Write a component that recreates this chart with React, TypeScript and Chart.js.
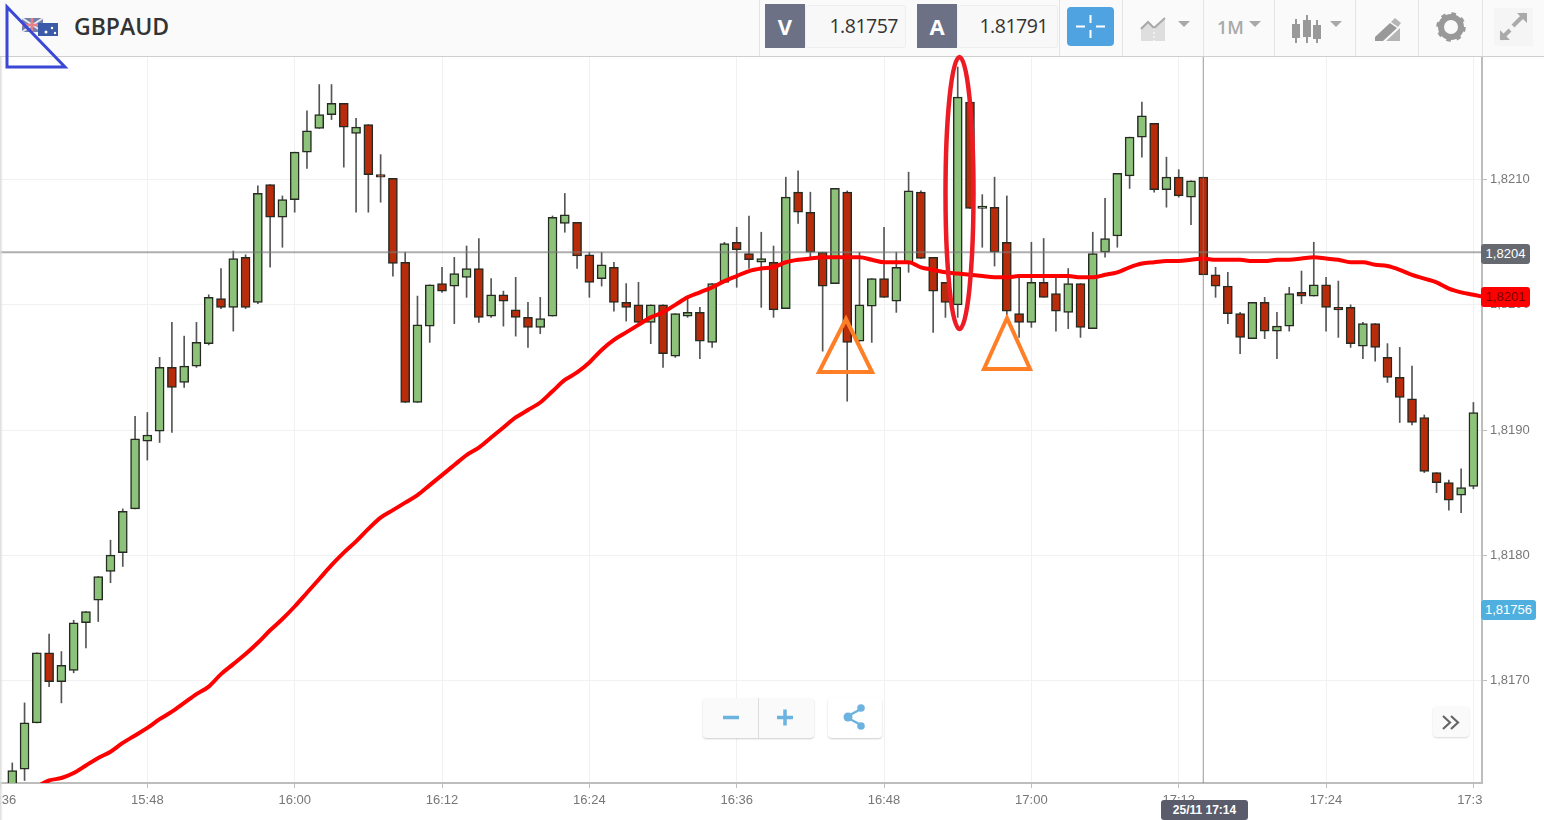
import React, { useEffect, useRef } from 'react';
import { Chart, registerables } from 'chart.js';

Chart.register(...registerables);

// minutes since midnight: the first candle is 15:37
const firstMinute = 937;
const xMin = 936;
const xMax = 1056.7;
const yMin = 1.81618;
const yMax = 1.82198;
const crossPrice = 1.82042;
const crossMinute = 1034;

const opens = [
  1.81608, 1.81629, 1.81666, 1.81722, 1.81699, 1.81708, 1.81746, 1.81764, 1.81787, 1.81802,
  1.81837, 1.81891, 1.81899, 1.8195, 1.81938, 1.81951, 1.81969, 1.82005, 1.81998, 1.82038,
  1.82002, 1.82096, 1.8207, 1.82084, 1.82122, 1.82141, 1.82152, 1.82161, 1.82137, 1.82144,
  1.82104, 1.82101, 1.82034, 1.81922, 1.81983, 1.82017, 1.82015, 1.82022, 1.82029, 1.81991,
  1.82008, 1.81996, 1.8199, 1.81982, 1.81991, 1.82065, 1.82066, 1.8204, 1.82021, 1.8203,
  1.82002, 1.82, 1.81986, 1.82, 1.81959, 1.81991, 1.81994, 1.8197, 1.82018, 1.8205,
  1.82041, 1.82034, 1.82034, 1.81997, 1.8209, 1.82074, 1.82042, 1.82017, 1.8209, 1.81971,
  1.81999, 1.82021, 1.82003, 1.82034, 1.8209, 1.82038, 1.82018, 1.82, 1.82162, 1.82077,
  1.82078, 1.8205, 1.81993, 1.81986, 1.82018, 1.82009, 1.81994, 1.82017, 1.81981, 1.82042,
  1.82055, 1.82103, 1.82134, 1.82145, 1.82092, 1.82102, 1.82086, 1.82102, 1.82024, 1.82015,
  1.81993, 1.81973, 1.82002, 1.81979, 1.81983, 1.8201, 1.82007, 1.82016, 1.81998, 1.81998,
  1.81967, 1.81985, 1.81958, 1.81942, 1.81925, 1.8191, 1.81866, 1.81858, 1.81848, 1.81855,
];

const closes = [
  1.81628, 1.81666, 1.81722, 1.81699, 1.81712, 1.81746, 1.81755, 1.81783, 1.818, 1.81835,
  1.81893, 1.81896, 1.8195, 1.81934, 1.81951, 1.8197, 1.82006, 1.81998, 1.82037, 1.81998,
  1.82089, 1.8207, 1.82084, 1.82122, 1.82139, 1.82152, 1.82161, 1.82142, 1.82142, 1.82104,
  1.82102, 1.82033, 1.81922, 1.81984, 1.82016, 1.82011, 1.82025, 1.82029, 1.8199, 1.82008,
  1.82003, 1.8199, 1.81982, 1.81989, 1.8207, 1.82072, 1.82039, 1.82018, 1.82032, 1.82002,
  1.81998, 1.81986, 1.82, 1.81961, 1.81993, 1.81994, 1.81971, 1.82017, 1.82049, 1.82044,
  1.82036, 1.82037, 1.81996, 1.82086, 1.82074, 1.82042, 1.82015, 1.82093, 1.8197, 1.82,
  1.82021, 1.82006, 1.8203, 1.82091, 1.82037, 1.82011, 1.82002, 1.82166, 1.82077, 1.82079,
  1.82042, 1.81995, 1.81986, 1.82018, 1.82006, 1.81995, 1.82017, 1.81982, 1.82041, 1.82053,
  1.82105, 1.82134, 1.82151, 1.82092, 1.82102, 1.82087, 1.82099, 1.82024, 1.82015, 1.81993,
  1.81974, 1.82002, 1.81979, 1.81983, 1.82009, 1.82007, 1.82016, 1.81998, 1.81996, 1.81969,
  1.81985, 1.81966, 1.81942, 1.81926, 1.81906, 1.81867, 1.81858, 1.81844, 1.81854, 1.81914,
];

const highs = [
  1.81634, 1.81682, 1.81722, 1.81737, 1.81723, 1.81748, 1.81755, 1.81783, 1.81812, 1.81837,
  1.81911, 1.81914, 1.81958, 1.81986, 1.81975, 1.81986, 1.82008, 1.82029, 1.82043, 1.8204,
  1.82095, 1.82096, 1.82087, 1.82122, 1.82155, 1.82176, 1.82176, 1.82161, 1.82149, 1.82144,
  1.8212, 1.82101, 1.82042, 1.82007, 1.82016, 1.8203, 1.82038, 1.82047, 1.82053, 1.82021,
  1.82011, 1.82022, 1.82002, 1.82006, 1.82071, 1.82089, 1.82066, 1.82042, 1.82042, 1.82034,
  1.82017, 1.82018, 1.82, 1.82, 1.81993, 1.82007, 1.81998, 1.82017, 1.8205, 1.82062,
  1.82071, 1.82058, 1.82047, 1.82102, 1.82107, 1.8209, 1.82042, 1.82093, 1.82091, 1.82042,
  1.82021, 1.82062, 1.82042, 1.82106, 1.82091, 1.82038, 1.82018, 1.8219, 1.82162, 1.82088,
  1.82102, 1.82087, 1.82022, 1.8205, 1.82053, 1.82022, 1.82029, 1.82017, 1.82058, 1.82085,
  1.82105, 1.82134, 1.82162, 1.82145, 1.82118, 1.82108, 1.82099, 1.82102, 1.8203, 1.82026,
  1.81994, 1.82002, 1.82006, 1.81994, 1.82014, 1.82027, 1.8205, 1.82022, 1.82019, 1.82,
  1.81986, 1.81985, 1.81969, 1.81966, 1.81951, 1.81912, 1.81866, 1.8186, 1.81869, 1.81922,
];

const lows = [
  1.81604, 1.8162, 1.81666, 1.81695, 1.81682, 1.81706, 1.81726, 1.81747, 1.81778, 1.81791,
  1.81837, 1.81876, 1.8189, 1.81898, 1.81934, 1.8195, 1.81968, 1.81997, 1.81979, 1.81997,
  1.82001, 1.8203, 1.82046, 1.82074, 1.82109, 1.82141, 1.82148, 1.8211, 1.82074, 1.82074,
  1.82082, 1.82023, 1.81922, 1.81922, 1.8197, 1.8201, 1.81985, 1.82006, 1.81986, 1.8199,
  1.81983, 1.81975, 1.81966, 1.81977, 1.81991, 1.82058, 1.82029, 1.82006, 1.82015, 1.81995,
  1.81987, 1.81985, 1.81969, 1.8195, 1.81958, 1.8199, 1.81957, 1.81966, 1.82018, 1.82014,
  1.82029, 1.81998, 1.8199, 1.81997, 1.82065, 1.82038, 1.81963, 1.82017, 1.81923, 1.81971,
  1.8197, 1.82006, 1.81994, 1.82026, 1.82037, 1.81978, 1.8199, 1.8199, 1.82077, 1.82046,
  1.82031, 1.81992, 1.81974, 1.81982, 1.82006, 1.81979, 1.81981, 1.81974, 1.81981, 1.82038,
  1.82046, 1.82093, 1.82118, 1.8209, 1.82078, 1.82086, 1.82064, 1.82024, 1.82006, 1.81985,
  1.81961, 1.81973, 1.81973, 1.81957, 1.81979, 1.82001, 1.82007, 1.81979, 1.81974, 1.81966,
  1.81957, 1.81955, 1.81938, 1.81906, 1.81904, 1.81866, 1.8185, 1.81836, 1.81834, 1.81853,
];

// moving average, one value more than the candles (runs off the right edge)
const movingAverage = [
  1.81604, 1.8161, 1.81615, 1.8162, 1.81622, 1.81626, 1.81632, 1.81638, 1.81643, 1.8165,
  1.81656, 1.81662, 1.81669, 1.81675, 1.81682, 1.81689, 1.81695, 1.81705, 1.81713, 1.81721,
  1.8173, 1.8174, 1.81749, 1.81759, 1.8177, 1.81781, 1.81792, 1.81802, 1.81811, 1.81821,
  1.8183, 1.81836, 1.81842, 1.81848, 1.81856, 1.81864, 1.81872, 1.8188, 1.81886, 1.81894,
  1.81902, 1.8191, 1.81916, 1.81922, 1.81931, 1.8194, 1.81946, 1.81954, 1.81964, 1.81972,
  1.81978, 1.81984, 1.8199, 1.81994, 1.82, 1.82006, 1.8201, 1.82014, 1.82019, 1.82023,
  1.82027, 1.82029, 1.8203, 1.82034, 1.82036, 1.82037, 1.82038, 1.82038, 1.82038, 1.82038,
  1.82036, 1.82034, 1.82034, 1.82034, 1.8203, 1.82028, 1.82026, 1.82025, 1.82024, 1.82023,
  1.82022, 1.82022, 1.82023, 1.82023, 1.82023, 1.82023, 1.82023, 1.82022, 1.82022, 1.82024,
  1.82026, 1.8203, 1.82033, 1.82034, 1.82035, 1.82035, 1.82036, 1.82037, 1.82036, 1.82036,
  1.82036, 1.82035, 1.82035, 1.82036, 1.82036, 1.82037, 1.82038, 1.82037, 1.82036, 1.82034,
  1.82034, 1.82032, 1.82031, 1.82028, 1.82024, 1.82021, 1.82018, 1.82013, 1.8201, 1.82008,
  1.82006,
];

const GREEN = '#8cc27a';
const RED = '#b92c0b';
const AXIS = '#bdbdbd';
const GRID = '#f1f1f1';
const LABEL = '#777777';
const FONT = '"Liberation Sans", Arial, sans-serif';
const HEADER_FONT = '"Open Sans", sans-serif';

const minuteLabel = (m: number) => {
  const h = Math.floor(m / 60);
  const min = m % 60;
  return h + ':' + (min < 10 ? '0' : '') + min;
};

// hides the part of the last time label that runs under the price panel
const cornerMask = {
  id: 'cornerMask',
  beforeDatasetsDraw(chart: Chart) {
    const { ctx, chartArea, width, height } = chart;
    ctx.save();
    ctx.fillStyle = '#ffffff';
    ctx.fillRect(chartArea.right + 1, chartArea.bottom + 1, width - chartArea.right, height - chartArea.bottom);
    ctx.restore();
  },
};

const box = (left: number, top: number, width: number, height: number): React.CSSProperties => ({
  position: 'absolute',
  left,
  top,
  width,
  height,
  boxSizing: 'border-box',
});

const Tag: React.FC<{ top: number; width: number; bg: string; color: string; text: string }> = ({ top, width, bg, color, text }) => (
  <div style={{ ...box(1481, top, width, 20), background: bg, color, borderRadius: 3, font: '13px ' + FONT, lineHeight: '20px', textAlign: 'center' }}>
    {text}
  </div>
);

const Divider: React.FC<{ x: number }> = ({ x }) => (
  <div style={{ ...box(x, 0, 1, 56), background: '#e4e4e4' }} />
);

const Caret: React.FC<{ x: number; y: number }> = ({ x, y }) => (
  <polygon points={`${x},${y} ${x + 12},${y} ${x + 6},${y + 6}`} fill="#a9a9a9" />
);

const Header: React.FC = () => (
  <div style={{ ...box(0, 0, 1544, 57), background: '#fafafa', borderBottom: '1px solid #cfcfcf' }}>
    <svg style={box(0, 0, 1544, 56)} width={1544} height={56}>
      {/* flags */}
      <rect x={22} y={18} width={21} height={14} fill="#5a6a9c" opacity={0.85} />
      <path d="M22 18l21 14M43 18l-21 14" stroke="#e9e9ee" strokeWidth={2} />
      <path d="M22 25h21M32 18v14" stroke="#e8808a" strokeWidth={2.5} />
      <rect x={38} y={23} width={20} height={13} fill="#3b5aa8" />
      <circle cx={52} cy={28} r={1.2} fill="#fff" /><circle cx={46} cy={32} r={1.5} fill="#fff" /><circle cx={55} cy={33} r={1.2} fill="#fff" />
      {/* crosshair button */}
      <rect x={1067} y={7} width={47} height={39} rx={4} fill="#4ea3e0" />
      <path d="M1090.5 15v8M1090.5 30v8M1076 26.5h9M1096 26.5h9" stroke="#fff" strokeWidth={2} />
      {/* area chart icon */}
      <path d="M1141 41v-14l7-5 6 5 11-8v22z" fill="#dedede" />
      <path d="M1141 29l7-7 6 6 11-10" fill="none" stroke="#a9a9a9" strokeWidth={2} />
      <path d="M1154 20v22" stroke="#fff" strokeDasharray="2 2" />
      <Caret x={1178} y={21} />
      <text x={1217} y={34} fontFamily={HEADER_FONT} fontWeight={600} fontSize={18} fill="#a9a9a9">1M</text>
      <Caret x={1249} y={21} />
      {/* candle icon */}
      <path d="M1296 19v24M1307 15v28M1317 20v23" stroke="#999" strokeWidth={2} />
      <rect x={1292} y={24} width={8} height={14} fill="#999" />
      <rect x={1303} y={20} width={8} height={17} fill="#999" />
      <rect x={1313} y={25} width={8} height={14} fill="#999" />
      <Caret x={1330} y={21} />
      {/* pencil icon */}
      <path d="M1375 37l15-14 7 5-14 13h-8z" fill="#999" />
      <path d="M1391 22l4-4 6 5-3 4zM1386 41l14-13v13z" fill="#b5b5b5" />
      {/* gear icon */}
      <circle cx={1451} cy={27} r={10} fill="none" stroke="#999" strokeWidth={6} />
      <circle cx={1451} cy={27} r={13} fill="none" stroke="#999" strokeWidth={3.5} strokeDasharray="4.5 5.7" />
      {/* expand icon */}
      <rect x={1494} y={8} width={39} height={38} fill="#f5f5f5" />
      <path d="M1501 39l9-9M1513 26l12-12" stroke="#aaa" strokeWidth={4} />
      <path d="M1517 13h10v10zM1500 30v10h10z" fill="#aaa" />
    </svg>
    <div style={{ ...box(74, 10, 120, 32), font: '600 23px ' + HEADER_FONT, lineHeight: '32px', color: '#333' }}>GBPAUD</div>
    <div style={{ ...box(805, 5, 101, 43), background: '#f8f8f8', border: '1px solid #eee', borderRadius: 3, font: '19.5px ' + HEADER_FONT, lineHeight: '39px', textAlign: 'right', paddingRight: 7, color: '#333', letterSpacing: -0.5 }}>1.81757</div>
    <div style={{ ...box(765, 4, 40, 44), background: '#6c7186', color: '#fff', font: '700 22px ' + HEADER_FONT, lineHeight: '44px', textAlign: 'center' }}>V</div>
    <div style={{ ...box(957, 5, 101, 43), background: '#f8f8f8', border: '1px solid #eee', borderRadius: 3, font: '19.5px ' + HEADER_FONT, lineHeight: '39px', textAlign: 'right', paddingRight: 9, color: '#333', letterSpacing: -0.5 }}>1.81791</div>
    <div style={{ ...box(917, 4, 40, 44), background: '#6c7186', color: '#fff', font: '700 22px ' + HEADER_FONT, lineHeight: '44px', textAlign: 'center' }}>A</div>
    {[759, 1059, 1122, 1203, 1274, 1355, 1418, 1482].map((x) => <Divider key={x} x={x} />)}
  </div>
);

const Controls: React.FC = () => (
  <>
    <div style={{ ...box(703, 698, 111, 40), background: '#fafafa', borderRadius: 4, boxShadow: '0 1px 2px rgba(0,0,0,0.2)' }} />
    <div style={{ ...box(758, 698, 1, 40), background: '#dddddd' }} />
    <div style={{ ...box(828, 698, 54, 40), background: '#ffffff', borderRadius: 4, boxShadow: '0 1px 2px rgba(0,0,0,0.2)' }} />
    <div style={{ ...box(1433, 706, 36, 31), background: '#fafafa', borderRadius: 4, boxShadow: '0 1px 2px rgba(0,0,0,0.15)' }} />
    <svg style={box(0, 0, 1544, 820)} width={1544} height={820}>
      <path d="M723 717.5h16M777 717.5h16M785 709.5v16" stroke="#6db3e0" strokeWidth={3.5} />
      <path d="M848 716l13-7M848 718l13 7" stroke="#6db3e0" strokeWidth={2.5} />
      <circle cx={848} cy={717} r={4.5} fill="#6db3e0" /><circle cx={861} cy={708} r={3.8} fill="#6db3e0" /><circle cx={861} cy={726} r={3.8} fill="#6db3e0" />
      <path d="M1443 716l7 6.500-7 6.500M1451 716l7 6.500-7 6.500" fill="none" stroke="#666" strokeWidth={2.2} />
      {/* hand drawn marks on the picture */}
      <polygon points="7,7 7,67 65,67" fill="none" stroke="#3b48d6" strokeWidth={3} />
      <polygon points="846,319 819,372 872,372" fill="none" stroke="#ff7f27" strokeWidth={4} />
      <polygon points="1007,318 984,369 1030,369" fill="none" stroke="#ff7f27" strokeWidth={4} />
      <ellipse cx={959.500} cy={193} rx={14} ry={136} fill="none" stroke="#ed1c24" strokeWidth={4.5} />
    </svg>
  </>
);

const App: React.FC = () => {
  const chartRef = useRef<HTMLCanvasElement>(null);
  const chartInstanceRef = useRef<Chart | null>(null);

  useEffect(() => {
    if (chartRef.current) {
      const ctx = chartRef.current.getContext('2d');
      if (ctx) {
        const minutes = opens.map((_, i) => firstMinute + i);
        const up = opens.map((o, i) => closes[i] >= o);

        chartInstanceRef.current = new Chart(ctx, {
          type: 'bar',
          data: {
            datasets: [
              {
                type: 'line',
                data: movingAverage.map((v, i) => ({ x: firstMinute + i, y: v })),
                borderColor: '#ff0000',
                borderWidth: 4,
                pointRadius: 0,
                cubicInterpolationMode: 'monotone',
                order: 1,
              },
              {
                type: 'line',
                data: [{ x: xMin, y: crossPrice }, { x: xMax, y: crossPrice }],
                borderColor: 'rgba(120,120,120,0.6)',
                borderWidth: 2,
                pointRadius: 0,
                order: 0,
              },
              {
                type: 'line',
                data: [{ x: crossMinute, y: yMin }, { x: crossMinute, y: yMax }],
                borderColor: 'rgba(120,120,120,0.75)',
                borderWidth: 1,
                pointRadius: 0,
                order: 0,
              },
              {
                type: 'bar',
                data: minutes.map((m, i) => ({ x: m, y: [opens[i], closes[i]] })),
                backgroundColor: up.map((u) => (u ? GREEN : RED)),
                borderColor: '#262b22',
                borderWidth: 1.5,
                borderSkipped: false,
                barThickness: 9,
                grouped: false,
                order: 2,
              },
              {
                type: 'bar',
                data: minutes.map((m, i) => ({ x: m, y: [lows[i], highs[i]] })),
                backgroundColor: '#555555',
                borderWidth: 0,
                barThickness: 1,
                grouped: false,
                order: 3,
              },
            ],
          } as any,
          options: {
            responsive: false,
            animation: false,
            layout: { padding: { top: 57, left: 0, right: 0, bottom: 0 } },
            plugins: { legend: { display: false }, tooltip: { enabled: false } },
            scales: {
              x: {
                type: 'linear',
                min: xMin,
                max: xMax,
                offset: false,
                grid: { offset: false, color: GRID, tickColor: AXIS, tickLength: 5 },
                border: { color: AXIS, width: 2 },
                ticks: {
                  stepSize: 12,
                  includeBounds: false,
                  autoSkip: false,
                  maxRotation: 0,
                  padding: 5,
                  color: LABEL,
                  font: { size: 13, family: FONT },
                  callback: (v: any) => minuteLabel(Number(v)),
                },
                afterFit: (scale: any) => {
                  scale.height = 37;
                  scale.paddingLeft = 0;
                  scale.paddingRight = 0;
                },
              },
              y: {
                type: 'linear',
                position: 'right',
                min: yMin,
                max: yMax,
                grid: { color: GRID, tickColor: AXIS, tickLength: 5 },
                border: { color: AXIS, width: 2 },
                ticks: {
                  stepSize: 0.001,
                  includeBounds: false,
                  padding: 3,
                  color: LABEL,
                  font: { size: 13, family: FONT },
                  callback: (v: any) => Number(v).toFixed(4).replace('.', ','),
                },
                afterFit: (scale: any) => {
                  scale.width = 62;
                  scale.paddingTop = 0;
                  scale.paddingBottom = 0;
                },
              },
            },
          },
          plugins: [cornerMask],
        } as any);
      }
    }

    return () => {
      if (chartInstanceRef.current) {
        chartInstanceRef.current.destroy();
        chartInstanceRef.current = null;
      }
    };
  }, []);

  return (
    <div style={{ position: 'fixed', left: 0, top: 0, width: 1544, height: 820, overflow: 'hidden', background: '#fff' }}>
      <canvas ref={chartRef} width={1544} height={820} style={{ display: 'block', width: 1544, height: 820 }} />
      <div style={{ ...box(0, 0, 3, 820), background: 'linear-gradient(to right, #dcdcdc, rgba(255,255,255,0))' }} />
      <Header />
      <Tag top={244} width={49} bg="#666a70" color="#fff" text="1,8204" />
      <Tag top={287} width={49} bg="#ff0000" color="#7a0000" text="1,8201" />
      <Tag top={600} width={55} bg="#4fb0e0" color="#fff" text="1,81756" />
      <div style={{ ...box(1161, 800, 87, 20), background: '#5a5c6b', color: '#fff', borderRadius: 3, font: 'bold 12px ' + FONT, lineHeight: '20px', textAlign: 'center' }}>25/11 17:14</div>
      <Controls />
    </div>
  );
};

export default App;
